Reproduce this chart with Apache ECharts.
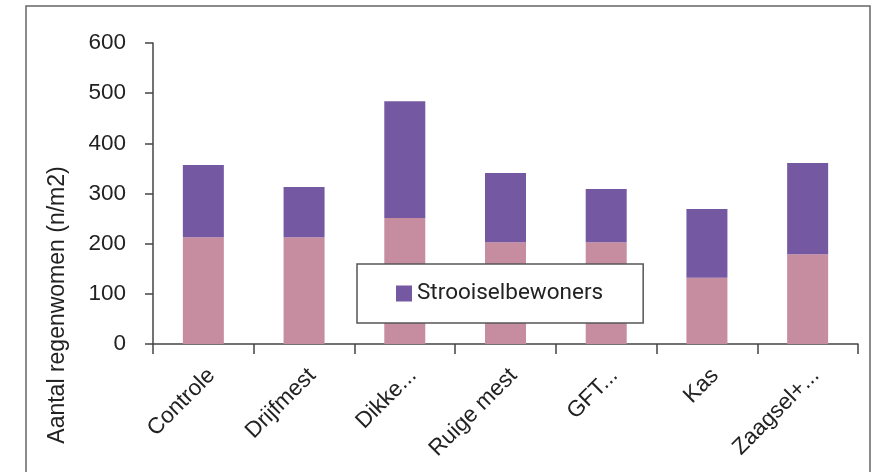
<!DOCTYPE html>
<html>
<head>
<meta charset="utf-8">
<script src="https://cdn.jsdelivr.net/npm/echarts@6/dist/echarts.min.js"></script>
<style>html,body{margin:0;padding:0;background:#fff;}#c{width:883px;height:472px;}</style>
</head>
<body>
<div id="c"></div>
<script>
const categories = ['Controle', 'Drijfmest', 'Dikke...', 'Ruige mest', 'GFT...', 'Kas', 'Zaagsel+...'];
const bottomValues = [213, 213, 251, 203, 203, 132, 179];
const strooiselValues = [144, 100, 233, 138, 106, 137, 182];
const yTicks = [0, 100, 200, 300, 400, 500, 600];
const yTitle = 'Aantal regenwomen (n/m2)';

const chart = echarts.init(document.getElementById('c'));
const axisFont = 'Liberation Sans, Arial, sans-serif';
chart.setOption({
  animation: false,
  backgroundColor: '#fff',
  graphic: [
    { type: 'rect', shape: { x: 26, y: 6, width: 844, height: 480 }, style: { fill: 'none', stroke: '#666', lineWidth: 1.5 }, z: 0 },
    { type: 'text', x: 58, y: 305, rotation: Math.PI / 2,
      style: { text: yTitle, font: '23px ' + axisFont, fill: '#222', align: 'center', verticalAlign: 'middle' } }
  ],
  grid: { left: 153, top: 43, right: 25, bottom: 128, containLabel: false },
  legend: {
    data: ['Strooiselbewoners'],
    left: 357, top: 264,
    orient: 'horizontal',
    padding: [18, 40, 18, 39],
    itemWidth: 16, itemHeight: 16, itemGap: 5,
    icon: 'rect',
    backgroundColor: '#fff',
    borderColor: '#555', borderWidth: 1.5,
    textStyle: { fontFamily: 'Roboto, sans-serif', fontSize: 22.5, color: '#222' },
    z: 10
  },
  xAxis: {
    type: 'category',
    data: categories,
    axisLine: { lineStyle: { color: '#444', width: 1.5 } },
    axisTick: { show: true, length: 10, lineStyle: { color: '#444', width: 1.5 } },
    axisLabel: { rotate: 45, interval: 0, margin: 20, verticalAlign: 'top', fontFamily: axisFont, fontSize: 22.5, color: '#222' }
  },
  yAxis: {
    type: 'value',
    min: yTicks[0], max: yTicks[yTicks.length - 1], interval: 100,
    splitLine: { show: false },
    axisLine: { show: true, lineStyle: { color: '#444', width: 1.5 } },
    axisTick: { show: true, length: 8, lineStyle: { color: '#444', width: 1.5 } },
    axisLabel: { margin: 27, fontFamily: axisFont, fontSize: 22.5, color: '#222' }
  },
  series: [
    { name: 'Bodembewoners', type: 'bar', stack: 't', data: bottomValues, barWidth: 41,
      itemStyle: { color: '#C68C9F' } },
    { name: 'Strooiselbewoners', type: 'bar', stack: 't', data: strooiselValues, barWidth: 41,
      itemStyle: { color: '#7459A2' } }
  ]
});
</script>
</body>
</html>
